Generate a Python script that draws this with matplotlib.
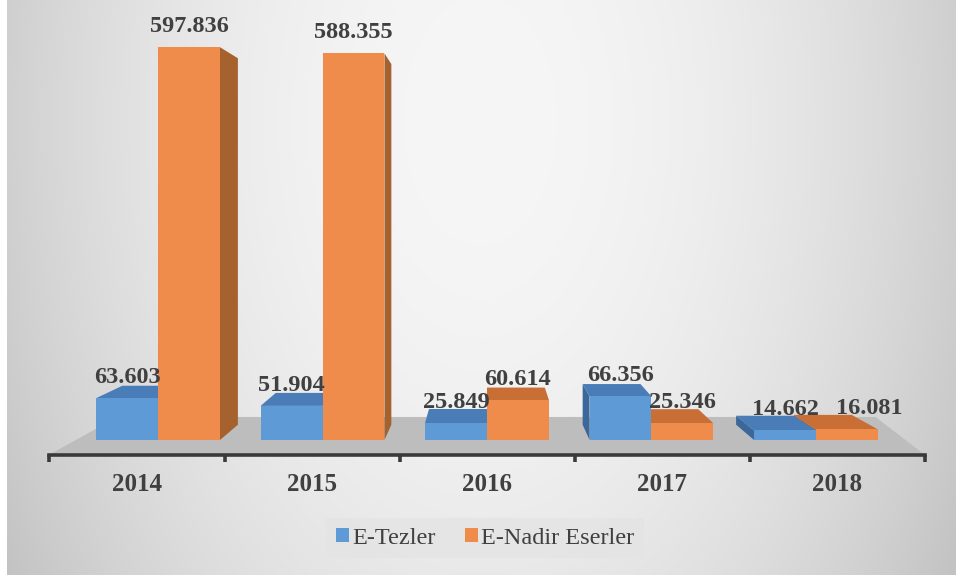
import numpy as np
import matplotlib
matplotlib.use("Agg")
import matplotlib.pyplot as plt
from matplotlib.patches import Polygon, Patch

# ---------------- data ----------------
years = ["2014", "2015", "2016", "2017", "2018"]
e_tezler = [63.603, 51.904, 25.849, 66.356, 14.662]
e_nadir = [597.836, 588.355, 60.614, 25.346, 16.081]
series_names = ["E-Tezler", "E-Nadir Eserler"]

# ---------------- style ----------------
FRONT = ["#5E9BD6", "#EF8C4C"]
TOP = ["#4A7DB8", "#C96E34"]
SIDE = ["#3B679A", "#A5622F"]
TXT = "#404040"
SERIF = ["Liberation Serif", "DejaVu Serif"]

W_PX, H_PX = 956, 581
fig = plt.figure(figsize=(W_PX / 100, H_PX / 100), dpi=100)

# background gradient
bg = fig.add_axes([0, 0, 1, 1], zorder=-5)
yy, xx = np.mgrid[0:H_PX, 0:W_PX]
t = ((xx - 480) / 520.0) ** 2 + ((yy - 120) / 850.0) ** 2
c = np.clip(246 - 46 * t, 195, 250) / 255.0
img = np.dstack([c, c, c])
img[:, :7] = 1.0
img[575:, :] = 1.0
bg.imshow(img, extent=[0, 1, 0, 1], aspect="auto")
bg.axis("off")

ax = fig.add_axes([0, 0, 1, 1])
ax.patch.set_visible(False)

# data space: x in category units (floor front spacing), y in value units (bar front plane)
PX_X, X0_PX = 175.0, 137.0
PX_Y, Y0_PX = 0.657, 440.0
ax.set_xlim(-X0_PX / PX_X, (W_PX - X0_PX) / PX_X)
ax.set_ylim((Y0_PX - H_PX) / PX_Y, Y0_PX / PX_Y)

XV, YV = 2.0, 347.0           # vanishing point in data space
S_BACK = 0.933                # depth of bar backs
S_FLOOR_F = 1.064             # floor front edge
S_FLOOR_B = 0.899             # floor back edge
G = 1.0 / S_FLOOR_F           # category spacing on bar front plane
BW = 0.354                    # bar width on bar front plane


def proj(x, y, s):
    return (XV + (x - XV) * s, YV + (y - YV) * s)


n = len(years)
idx = np.arange(n)
centers = XV + (idx - XV) * G

# floor
fl_l = XV + (-0.5 - XV) * G
fl_r = XV + (n - 0.5 - XV) * G
floor = [proj(fl_l, 0, S_FLOOR_F), proj(fl_r, 0, S_FLOOR_F),
         proj(fl_r + 0.12, 0, S_FLOOR_B), proj(fl_l, 0, S_FLOOR_B)]
ax.add_patch(Polygon(floor, closed=True, facecolor="#bdbdbd", edgecolor="none", zorder=1))

# bars
vals = [e_tezler, e_nadir]
containers = []
for k in range(2):
    xs = centers + (k - 0.5) * BW
    cont = ax.bar(xs, vals[k], width=BW, color=FRONT[k], edgecolor="none",
                  label=series_names[k])
    containers.append(cont)

items = []
for k in range(2):
    for i in range(n):
        xc = centers[i] + (k - 0.5) * BW
        items.append((abs(xc - XV), k, i, xc))
items.sort(key=lambda a: -a[0])

for rank, (_, k, i, xc) in enumerate(items):
    base = 2 + rank
    v = vals[k][i]
    x0, x1 = xc - BW / 2, xc + BW / 2
    if x1 < XV:
        side = [(x1, 0), (x1, v), proj(x1, v, S_BACK), proj(x1, 0, S_BACK)]
        ax.add_patch(Polygon(side, closed=True, facecolor=SIDE[k], edgecolor="none", zorder=base + 0.1))
    elif x0 > XV:
        side = [(x0, 0), (x0, v), proj(x0, v, S_BACK), proj(x0, 0, S_BACK)]
        ax.add_patch(Polygon(side, closed=True, facecolor=SIDE[k], edgecolor="none", zorder=base + 0.1))
    if v < YV:
        top = [(x0, v), (x1, v), proj(x1, v, S_BACK), proj(x0, v, S_BACK)]
        ax.add_patch(Polygon(top, closed=True, facecolor=TOP[k], edgecolor="none", zorder=base + 0.2))
    containers[k].patches[i].set_zorder(base + 0.3)

# value labels
for k in range(2):
    for i in range(n):
        xc = centers[i] + (k - 0.5) * BW
        v = vals[k][i]
        dx = 16 if (k == 1 and i == n - 1) else 0
        ax.annotate(f"{v:.3f}", (xc, v), xytext=(dx, 11), textcoords="offset points",
                    ha="center", va="baseline", fontsize=17.5, fontweight="bold",
                    color=TXT, family=SERIF, zorder=100)

# axis line with ticks
axis_y = proj(0, 0, S_FLOOR_F)[1]
for s in ["top", "right", "left"]:
    ax.spines[s].set_visible(False)
sp = ax.spines["bottom"]
sp.set_position(("data", axis_y))
sp.set_bounds(-0.5, n - 0.5)
sp.set_color("#3a3a3a")
sp.set_linewidth(2.6)
sp.set_zorder(50)
ax.set_xticks(np.arange(-0.5, n, 1.0))
ax.set_xticklabels([])
ax.tick_params(axis="x", which="major", direction="out", length=5, width=2.6, color="#3a3a3a")
ax.set_xticks(idx, minor=True)
ax.set_xticklabels(years, minor=True, fontsize=18, fontweight="bold", color=TXT, family=SERIF)
ax.tick_params(axis="x", which="minor", length=0, pad=13)
ax.set_yticks([])

# legend
handles = [Patch(facecolor=FRONT[0]), Patch(facecolor=FRONT[1])]
leg = fig.legend(handles, series_names, loc="center", bbox_to_anchor=(485 / W_PX, 1 - 538 / H_PX),
                 ncol=2, frameon=True, fancybox=False,
                 prop={"family": SERIF, "size": 17.5},
                 handlelength=0.55, handleheight=0.55, handletextpad=0.12, columnspacing=1.2,
                 borderpad=0.4)
leg.get_frame().set_facecolor("#e4e4e4")
leg.get_frame().set_edgecolor("none")
leg.get_frame().set_alpha(0.8)
for txt in leg.get_texts():
    txt.set_color(TXT)

fig.savefig("out.png", dpi=100)
